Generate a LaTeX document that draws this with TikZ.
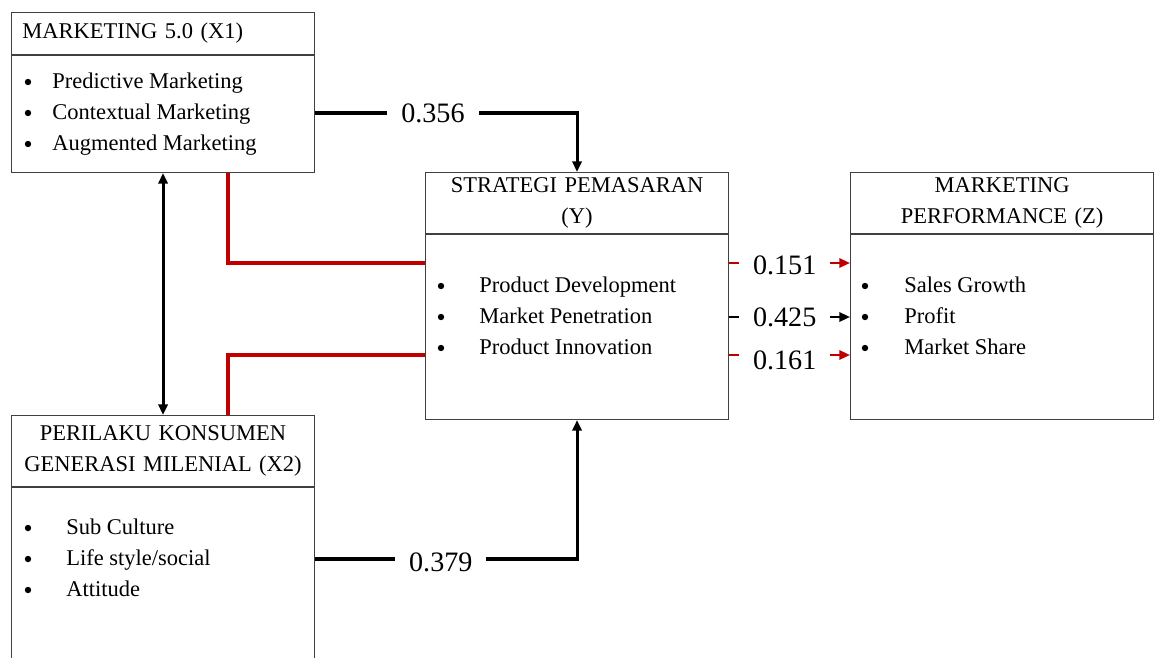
\documentclass[tikz,border=0pt]{standalone}
\usepackage{fontspec}
\setmainfont{Liberation Serif}
\usetikzlibrary{arrows.meta,positioning}
\definecolor{pathred}{RGB}{192,0,0}

\begin{document}
\begin{tikzpicture}[
    x=0.025cm, y=-0.025cm,
    >={Triangle[length=7.5pt,width=6.5pt]},
    hdr/.style={rectangle, draw=black!75, line width=0.7pt, anchor=north west, inner xsep=0.275cm, inner ysep=0pt, text width=7.025cm, align=center, font=\fontsize{16}{22}\selectfont},
    body/.style={rectangle, draw=black!75, line width=0.7pt, inner sep=0pt, minimum width=7.575cm, below=0pt of #1},
    dot/.style={circle, fill=black, inner sep=0pt, minimum size=0.16cm},
    item/.style={anchor=base west, inner sep=0pt, font=\fontsize{16}{22}\selectfont},
    conn/.style={line width=2.15pt, black},
    redl/.style={line width=2.15pt, pathred},
    thin/.style={line width=1.6pt},
    lbl/.style={fill=white, text=black, inner xsep=0.35cm, inner ysep=1pt, font=\fontsize{20}{24}\selectfont}
]
    \clip (0,0) rectangle (1154,657);

    % boxes
    \node[hdr, align=left, minimum height=1.05cm] (x1h) at (11,12) {MARKETING 5.0 (X1)};
    \node[body=x1h, minimum height=2.925cm] (x1b) {};
    \node[hdr, minimum height=1.525cm] (yh) at (425,172) {STRATEGI PEMASARAN\\(Y)};
    \node[body=yh, minimum height=4.625cm] (yb) {};
    \node[hdr, minimum height=1.525cm] (zh) at (850,172) {MARKETING\\PERFORMANCE (Z)};
    \node[body=zh, minimum height=4.625cm] (zb) {};
    \node[hdr, minimum height=1.775cm] (x2h) at (11,415) {PERILAKU KONSUMEN\\GENERASI MILENIAL (X2)};
    \node[body=x2h, minimum height=6cm] (x2b) {};

    % indicators
    \foreach \txt [count=\i] in {Predictive Marketing, Contextual Marketing, Augmented Marketing} {
        \node[dot] (x1d\i) at (28, 51+31*\i) {};
        \node[item] (x1t\i) at (52, 57+31*\i) {\txt};
    }
    \foreach \txt [count=\i] in {Product Development, Market Penetration, Product Innovation} {
        \node[dot] (yd\i) at (441, 255+31*\i) {};
        \node[item] (yt\i) at (479, 261+31*\i) {\txt};
    }
    \foreach \txt [count=\i] in {Sales Growth, Profit, Market Share} {
        \node[dot] (zd\i) at (865, 255+31*\i) {};
        \node[item] (zt\i) at (904, 261+31*\i) {\txt};
    }
    \foreach \txt [count=\i] in {Sub Culture, Life style/social, Attitude} {
        \node[dot] (x2d\i) at (28, 497+31*\i) {};
        \node[item] (x2t\i) at (66, 503+31*\i) {\txt};
    }

    \coordinate (rx) at (228,0);
    \coordinate (ra) at (0,263);
    \coordinate (rb) at (0,355);

    % paths
    \draw[conn, ->] (x1b.east |- x1d2) -| node[lbl, pos=0.225] {0.356} (yh.north);
    \draw[conn, ->] (x2b.east |- x2d2) -| node[lbl, pos=0.24, yshift=-0.08cm] {0.379} (yb.south);
    \draw[conn, <->] (x1b.south) -- (x2h.north);
    \draw[redl] (x1b.south -| rx) |- (yb.west |- ra);
    \draw[redl] (x2h.north -| rx) |- (yb.west |- rb);
    \draw[redl, thin, ->] (yb.east |- ra) -- node[lbl, pos=0.46, yshift=-0.07cm] {0.151} (zb.west |- ra);
    \draw[conn, thin, ->] (yb.east |- yd2) -- node[lbl, pos=0.46] {0.425} (zb.west |- yd2);
    \draw[redl, thin, ->] (yb.east |- rb) -- node[lbl, pos=0.46, yshift=-0.14cm] {0.161} (zb.west |- rb);
\end{tikzpicture}
\end{document}
